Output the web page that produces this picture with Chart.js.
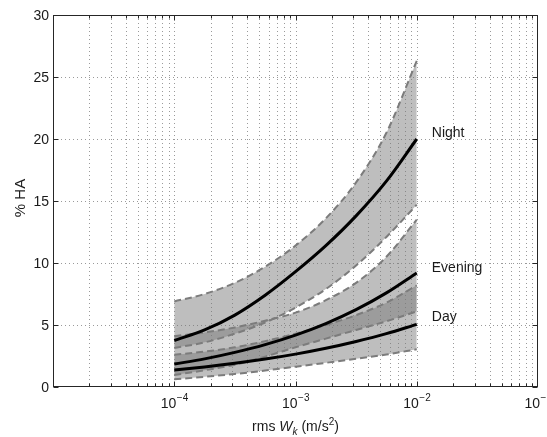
<!DOCTYPE html>
<html><head><meta charset="utf-8">
<script src="https://cdn.jsdelivr.net/npm/chart.js@4/dist/chart.umd.min.js"></script>
<style>html,body{margin:0;padding:0;background:#fff;}canvas{display:block;}</style>
</head><body>
<canvas id="c" width="547" height="437"></canvas>
<script>
// ---- data (quarter-decade steps from 1e-4 to 1e-2) ----
const wk = [1e-4, 1.78e-4, 3.16e-4, 5.62e-4, 1e-3, 1.78e-3, 3.16e-3, 5.62e-3, 1e-2];   // rms Wk (m/s^2)
const nightMid   = [3.75, 4.6, 5.8, 7.4, 9.3, 11.4, 13.8, 16.6, 20.0];
const nightUpper = [6.9, 7.5, 8.4, 9.7, 11.4, 13.6, 16.5, 20.5, 26.3];
const nightLower = [3.15, 3.6, 4.3, 5.2, 6.4, 7.9, 9.8, 12.1, 14.7];
const eveMid     = [1.85, 2.27, 2.79, 3.42, 4.19, 5.12, 6.24, 7.59, 9.2];
const eveUpper   = [4.1, 4.4, 4.8, 5.35, 6.0, 7.0, 8.4, 10.5, 13.5];
const eveLower   = [0.97, 1.35, 1.8, 2.45, 3.2, 3.9, 4.6, 5.3, 6.1];
const dayMid     = [1.37, 1.62, 1.91, 2.25, 2.65, 3.12, 3.67, 4.3, 5.05];
const dayUpper   = [2.6, 2.85, 3.2, 3.7, 4.3, 5.0, 5.8, 6.8, 8.2];
const dayLower   = [0.62, 0.82, 1.05, 1.33, 1.64, 1.95, 2.27, 2.62, 3.04];
const periods    = ['Night', 'Evening', 'Day'];
const yTicks     = [0, 5, 10, 15, 20, 25, 30];
const xDecades   = [-5, -4, -3, -2, -1];
const xTickLabels = ['', '\u22124', '\u22123', '\u22122', '\u22121'];   // exponents of 10
const yTitle = '% HA';

// ---- styles ----
const FONT = '"Liberation Sans", Arial, Helvetica, sans-serif';
const bandFill = 'rgba(120,120,120,0.48)';
const dashColor = '#7c7c7c';
const pts = a => a.map((v, i) => ({x: wk[i], y: v}));
const mid = (a) => ({data: pts(a), borderColor: '#000', borderWidth: 3, fill: false,
  pointRadius: 0, cubicInterpolationMode: 'monotone'});
const bound = (a, fillPrev) => ({data: pts(a), borderColor: dashColor, borderWidth: 2,
  borderDash: [7, 4], pointRadius: 0, cubicInterpolationMode: 'monotone',
  fill: fillPrev ? '-1' : false, backgroundColor: bandFill});

const datasets = [
  mid(nightMid), mid(eveMid), mid(dayMid),
  bound(nightLower, false), bound(nightUpper, true),
  bound(eveLower, false), bound(eveUpper, true),
  bound(dayLower, false), bound(dayUpper, true)
];

// label anchor (data coords, baseline) for each period
const labelAt = {x: 1.33e-2, y: [20.2, 9.27, 5.35]};

const deco = {
  id: 'deco',
  beforeDraw(chart) {
    const {ctx, chartArea: a, scales: {x, y}} = chart;
    ctx.save();
    ctx.fillStyle = '#fff';
    ctx.fillRect(0, 0, chart.width, chart.height);
    ctx.strokeStyle = '#9a9a9a';
    ctx.lineWidth = 1;
    ctx.setLineDash([1, 3]);
    for (let d = -5; d <= -2; d++) {
      for (let k = 1; k <= 9; k++) {
        if (d === -5 && k === 1) continue;
        const px = Math.round(x.getPixelForValue(k * Math.pow(10, d))) + 0.5;
        ctx.beginPath(); ctx.moveTo(px, a.top); ctx.lineTo(px, a.bottom); ctx.stroke();
      }
    }
    yTicks.slice(1, -1).forEach(v => {
      const py = Math.round(y.getPixelForValue(v)) + 0.5;
      ctx.beginPath(); ctx.moveTo(a.left, py); ctx.lineTo(a.right, py); ctx.stroke();
    });
    ctx.restore();
  },
  afterDatasetsDraw(chart) {
    const {ctx, chartArea: a, scales: {x, y}} = chart;
    ctx.save();
    ctx.strokeStyle = '#262626';
    ctx.lineWidth = 1;
    ctx.setLineDash([]);
    const L = Math.round(a.left) + 0.5, R = Math.round(a.right) - 0.5;
    const T = Math.round(a.top) + 0.5, B = Math.round(a.bottom) - 0.5;
    ctx.strokeRect(L, T, R - L, B - T);
    ctx.beginPath();
    for (let d = -5; d <= -2; d++) {
      for (let k = 1; k <= 9; k++) {
        const px = Math.round(x.getPixelForValue(k * Math.pow(10, d))) + 0.5;
        const len = k === 1 ? 5 : 3;
        ctx.moveTo(px, B); ctx.lineTo(px, B - len);
        ctx.moveTo(px, T); ctx.lineTo(px, T + len);
      }
    }
    yTicks.forEach(v => {
      const py = Math.round(y.getPixelForValue(v)) + 0.5;
      ctx.moveTo(L, py); ctx.lineTo(L + 5, py);
      ctx.moveTo(R, py); ctx.lineTo(R - 5, py);
    });
    ctx.stroke();

    ctx.fillStyle = '#1a1a1a';
    ctx.font = '14px ' + FONT;
    ctx.textAlign = 'right';
    ctx.textBaseline = 'middle';
    yTicks.forEach(v => ctx.fillText(String(v), a.left - 4, y.getPixelForValue(v) + 1));
    ctx.textBaseline = 'alphabetic';
    ctx.textAlign = 'left';
    xDecades.forEach((d, i) => {
      const e = xTickLabels[i];
      if (!e) return;
      const px = x.getPixelForValue(Math.pow(10, d));
      ctx.font = '14px ' + FONT;
      const wb = ctx.measureText('10').width;
      ctx.font = '10px ' + FONT;
      const we = ctx.measureText(e).width;
      const x0 = px - (wb + we) / 2;
      ctx.font = '14px ' + FONT;
      ctx.fillText('10', x0, 408);
      ctx.font = '10px ' + FONT;
      ctx.fillText(e, x0 + wb + 0.5, 401);
    });
    const parts = [
      {t: 'rms ', f: '14px ' + FONT, dy: 0},
      {t: 'W', f: 'italic 14px ' + FONT, dy: 0},
      {t: 'k', f: 'italic 10px ' + FONT, dy: 4},
      {t: ' (m/s', f: '14px ' + FONT, dy: 0},
      {t: '2', f: '10px ' + FONT, dy: -6},
      {t: ')', f: '14px ' + FONT, dy: 0}
    ];
    let tw = 0;
    parts.forEach(p => { ctx.font = p.f; p.w = ctx.measureText(p.t).width; tw += p.w; });
    let cx = (a.left + a.right) / 2 - tw / 2;
    parts.forEach(p => { ctx.font = p.f; ctx.fillText(p.t, cx, 431 + p.dy); cx += p.w; });
    ctx.save();
    ctx.translate(21, (a.top + a.bottom) / 2 - 3);
    ctx.rotate(-Math.PI / 2);
    ctx.textAlign = 'center';
    ctx.textBaseline = 'middle';
    ctx.font = '15px ' + FONT;
    ctx.fillText(yTitle, 0, 0);
    ctx.restore();
    ctx.font = '14px ' + FONT;
    ctx.textAlign = 'left';
    ctx.textBaseline = 'alphabetic';
    periods.forEach((name, i) => {
      ctx.fillText(name, x.getPixelForValue(labelAt.x), y.getPixelForValue(labelAt.y[i]));
    });
    ctx.restore();
  }
};

new Chart(document.getElementById('c'), {
  type: 'line',
  data: {datasets},
  options: {
    responsive: false,
    animation: false,
    devicePixelRatio: 1,
    layout: {padding: {left: 53, top: 15, right: 9, bottom: 50}},
    scales: {
      x: {type: 'logarithmic', min: 1e-5, max: 1e-1, display: false},
      y: {type: 'linear', min: 0, max: 30, display: false}
    },
    plugins: {
      legend: {display: false},
      tooltip: {enabled: false},
      filler: {drawTime: 'beforeDatasetsDraw', propagate: false}
    }
  },
  plugins: [deco]
});
</script>
</body></html>
